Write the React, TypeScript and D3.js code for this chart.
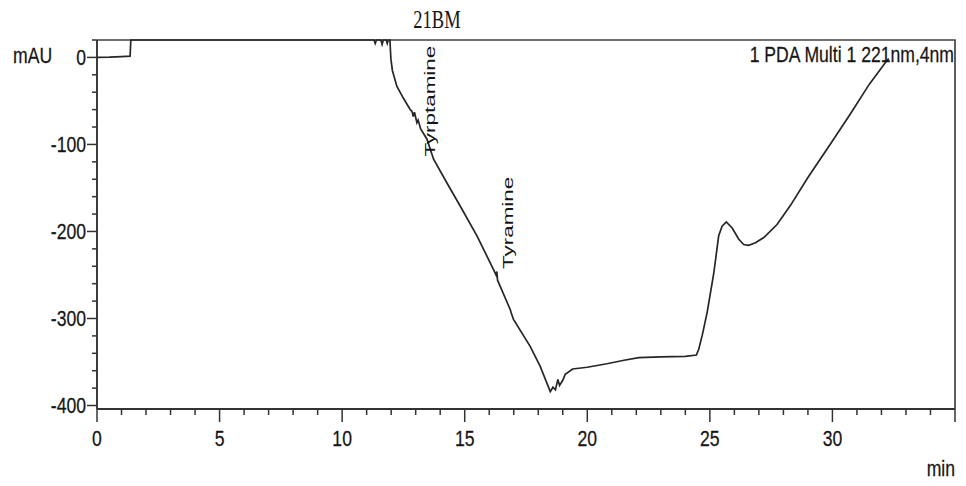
import React from "react";
import * as d3 from "d3";

// Chromatogram trace (time in min, signal in mAU; 20 = off-scale top, drawn clamped)
const times = [
  0, 0.5, 1.0, 1.35, 1.38, 5, 11.3, 11.35, 11.4, 11.58, 11.63, 11.68, 11.8, 11.84, 11.88, 11.95,
  11.97, 11.99, 12.05, 12.23, 12.5, 12.78, 12.85, 12.9, 12.95, 13.05, 13.1, 13.2, 13.46, 13.73,
  14.27, 14.82, 15.5, 16.18, 16.28, 16.31, 16.34, 16.86, 16.9, 16.99, 17.67, 18.08, 18.49, 18.6,
  18.7, 18.8, 18.87, 19.0, 19.1, 19.4, 20.0, 20.8, 21.5, 22.1, 23.0, 24.0, 24.45, 24.55, 24.7,
  24.89, 25.16, 25.36, 25.5, 25.67, 25.91, 26.18, 26.38, 26.58, 26.86, 27.2, 27.74, 28.29, 29.0,
  30.0, 30.73, 31.5, 32.23, 32.3,
];
const values = [
  0, 0.3, 1.0, 1.5, 20, 20, 20, 16, 20, 20, 15, 20, 20, 16, 20, 20,
  8, -2, -15, -33, -47, -60, -62, -68, -63, -75, -72, -82, -94, -117,
  -144, -171, -205, -244, -250, -246, -256, -290, -294, -301, -332, -355, -384, -379,
  -382, -370, -377, -371, -364, -358, -356, -352, -348, -345, -344, -343.5, -342, -335, -318,
  -293, -248, -205, -194, -189, -196, -209, -215, -216, -213, -207, -192, -170, -138,
  -96, -65, -31, -3.4, -1.5,
];

const xTickLabels = [0, 5, 10, 15, 20, 25, 30];
const yTickLabels = [0, -100, -200, -300, -400];
const peakNames = ["Tyrptamine", "Tyramine"];
const peakTimes = [13.71, 16.9];
const peakLabelBase = [-114, -243];

const title = "21BM";
const channelLabel = "1 PDA Multi 1 221nm,4nm";
const yUnit = "mAU";
const xUnit = "min";

const W = 966;
const H = 486;
const L = 97, R = 955, T = 40, B = 409;
const FONT = "'Liberation Sans', Arial, sans-serif";
const INK = "#161616";

export default function App() {
  const x = d3.scaleLinear().domain([0, 35]).range([L, R]);
  const y = d3.scaleLinear().domain([-404, 20]).range([B, T]).clamp(true);
  const pts: [number, number][] = times.map((t, i) => [t, values[i]]);
  const line = d3
    .line<[number, number]>()
    .x((d) => x(d[0]))
    .y((d) => y(d[1]));

  const xMinor = d3.range(0, 36, 1);
  const yMinor = d3.range(-400, 21, 20);

  const sx = 0.8;
  const txt = (
    s: string,
    px: number,
    py: number,
    anchor: "start" | "middle" | "end",
    size = 22,
    key?: string
  ) => (
    <g key={key} transform={`translate(${px},${py}) scale(${sx},1)`}>
      <text
        x={0}
        y={0}
        textAnchor={anchor}
        fontFamily={FONT}
        fontSize={size}
        fill={INK}
        stroke={INK}
        strokeWidth={0.25}
      >
        {s}
      </text>
    </g>
  );

  return (
    <svg
      width={W}
      height={H}
      style={{ position: "absolute", left: 0, top: 0, background: "#fff" }}
    >
      <rect x={0} y={0} width={W} height={H} fill="#fff" />
      {/* frame */}
      <path d={`M${L},${T}H${R}V${B}`} fill="none" stroke="#444" strokeWidth={1.7} />
      {/* axes */}
      <line x1={L} x2={L} y1={T} y2={B} stroke="#333" strokeWidth={1.9} />
      <line x1={L} x2={R} y1={B} y2={B} stroke="#333" strokeWidth={1.9} />
      {/* x ticks */}
      {xMinor.map((t) => (
        <line
          key={"xt" + t}
          x1={x(t)}
          x2={x(t)}
          y1={B}
          y2={B + (t % 5 === 0 ? 13 : 6)}
          stroke="#333"
          strokeWidth={1.5}
        />
      ))}
      {xTickLabels.map((t) => txt(String(t), x(t), 446, "middle", 22, "xl" + t))}
      {/* y ticks */}
      {yMinor.map((v) => (
        <line
          key={"yt" + v}
          x1={L - (v % 100 === 0 ? 10 : 5)}
          x2={L}
          y1={y(v)}
          y2={y(v)}
          stroke="#333"
          strokeWidth={1.5}
        />
      ))}
      {yTickLabels.map((v) => txt(String(v), 86, y(v) + 7.8, "end", 22, "yl" + v))}
      {txt(yUnit, 13, 63, "start")}
      {txt(xUnit, 955, 476, "end")}
      {/* title */}
      <g transform={`translate(437,28) scale(0.74,1)`}>
        <text
          x={0}
          y={0}
          textAnchor="middle"
          fontFamily="'Liberation Serif', 'Times New Roman', serif"
          fontSize={25}
          fill={INK}
        >
          {title}
        </text>
      </g>
      {/* trace */}
      <path d={line(pts) || ""} fill="none" stroke="#262626" strokeWidth={1.7} />
      {/* peak labels */}
      {peakNames.map((n, i) => (
        <g
          key={n}
          transform={`translate(${x(peakTimes[i]) + 2},${y(peakLabelBase[i])}) rotate(-90) scale(1.32,0.82)`}
        >
          <text x={0} y={0} fontFamily={FONT} fontSize={17} fill={INK}>
            {n}
          </text>
        </g>
      ))}
      {txt(channelLabel, 954, 62, "end")}
    </svg>
  );
}
